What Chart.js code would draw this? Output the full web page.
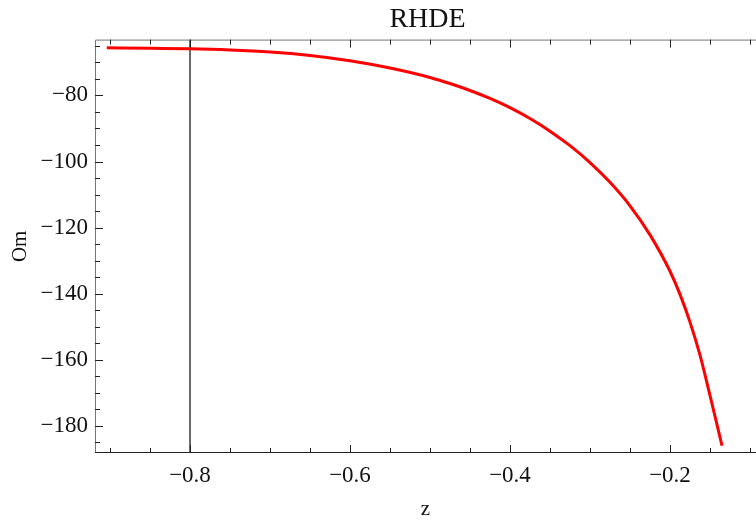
<!DOCTYPE html>
<html>
<head>
<meta charset="utf-8">
<script src="https://cdn.jsdelivr.net/npm/chart.js@4.4.1/dist/chart.umd.min.js"></script>
<style>
  html, body { margin: 0; padding: 0; background: #fff; overflow: hidden; }
  #wrap { width: 756px; height: 522px; position: relative; }
</style>
</head>
<body>
<div id="wrap"><canvas id="chart"></canvas></div>
<script>
// RHDE: Om against z
const Z_VALUES  = [-0.904, -0.85, -0.8, -0.75, -0.7, -0.65, -0.6, -0.55, -0.5, -0.475, -0.45, -0.425,
                   -0.4, -0.375, -0.35, -0.325, -0.3, -0.275, -0.25, -0.225, -0.2, -0.1875, -0.175,
                   -0.1625, -0.15, -0.135];
const OM_VALUES = [-65.6, -65.75, -65.9, -66.25, -66.85, -67.9, -69.5, -71.7, -74.55, -76.4, -78.5, -80.9,
                   -83.7, -87.0, -90.8, -95.2, -100.3, -106.3, -113.4, -122.2, -133.2, -140.2, -148.6,
                   -158.6, -170.8, -186.0];

const X_TICKS = [-0.8, -0.6, -0.4, -0.2];
const Y_TICKS = [-80, -100, -120, -140, -160, -180];
const VLINE_Z = -0.8;

const X_MIN = -0.91875, X_MAX = -0.0925;
const Y_MIN = -188.2,  Y_MAX = -63.1;

const SERIF = "'Liberation Serif', 'DejaVu Serif', serif";
const minus = s => s.replace('-', '\u2212');

// centre the title over the plot frame rather than the whole canvas
const titleOverArea = {
    id: 'titleOverArea',
    afterLayout(chart) {
        const t = chart.titleBlock;
        if (!t) return;
        t.left = chart.chartArea.left;
        t.right = chart.chartArea.right + 4;
    }
};

// Mathematica-like frame with inward ticks (major + minor)
const frameTicks = {
    id: 'frameTicks',
    afterDatasetsDraw(chart) {
        const { ctx, chartArea: a } = chart;
        const xs = chart.scales.x, ys = chart.scales.y;
        ctx.save();
        ctx.lineWidth = 1;

        // frame lines (right side falls outside the canvas)
        ctx.strokeStyle = '#777';
        ctx.beginPath();
        ctx.moveTo(a.left + 0.5, a.bottom);
        ctx.lineTo(a.left + 0.5, a.top + 0.5);
        ctx.lineTo(a.right + 2, a.top + 0.5);
        ctx.stroke();
        ctx.strokeStyle = '#222';
        ctx.beginPath();
        ctx.moveTo(a.left, a.bottom - 0.5);
        ctx.lineTo(a.right + 2, a.bottom - 0.5);
        ctx.stroke();

        ctx.strokeStyle = '#222';
        ctx.beginPath();
        for (let i = -18; i <= -1; i++) {
            const v = i * 0.05;
            const px = Math.round(xs.getPixelForValue(v)) + 0.5;
            if (px < a.left + 1 || px > a.right) continue;
            const len = (i % 4 === 0) ? 8 : 5;
            ctx.moveTo(px, a.bottom); ctx.lineTo(px, a.bottom - len);
            ctx.moveTo(px, a.top);    ctx.lineTo(px, a.top + len);
        }
        for (let v = -185; v <= -65; v += 5) {
            const py = Math.round(ys.getPixelForValue(v)) + 0.5;
            const len = (v % 20 === 0) ? 8 : 5;
            ctx.moveTo(a.left, py); ctx.lineTo(a.left + len, py);
        }
        ctx.stroke();
        ctx.restore();
    }
};

const ctx = document.getElementById('chart').getContext('2d');
new Chart(ctx, {
    type: 'line',
    data: {
        datasets: [
            {
                label: 'Om',
                data: Z_VALUES.map((z, i) => ({ x: z, y: OM_VALUES[i] })),
                borderColor: '#ff0000',
                borderWidth: 3,
                pointRadius: 0,
                cubicInterpolationMode: 'monotone',
                fill: false,
            },
            {
                label: 'z = -0.8',
                data: [{ x: VLINE_Z, y: Y_MAX }, { x: VLINE_Z, y: Y_MIN }],
                borderColor: '#555',
                borderWidth: 1,
                pointRadius: 0,
                fill: false,
            },
        ]
    },
    options: {
        responsive: true,
        maintainAspectRatio: false,
        animation: false,
        layout: { padding: { left: 0, right: 0, top: 0, bottom: 0 } },
        plugins: {
            legend: { display: false },
            tooltip: { enabled: false },
            title: {
                display: true,
                text: 'RHDE',
                color: '#111',
                font: { family: SERIF, size: 28, weight: 'normal' },
                padding: { top: 3, bottom: 3 },
            },
        },
        scales: {
            x: {
                type: 'linear',
                min: X_MIN, max: X_MAX,
                afterBuildTicks(s) { s.ticks = X_TICKS.map(v => ({ value: v })); },
                afterFit(s) { s.height = 69; },
                grid: { display: false, drawTicks: false },
                border: { display: false },
                ticks: {
                    color: '#111',
                    padding: 9,
                    maxRotation: 0,
                    autoSkip: false,
                    font: { family: SERIF, size: 23 },
                    callback: v => minus(Number(v).toFixed(1)),
                },
                title: {
                    display: true, text: 'z', color: '#111',
                    font: { family: SERIF, size: 21 },
                    padding: { top: 6, bottom: 0 },
                },
            },
            y: {
                type: 'linear',
                min: Y_MIN, max: Y_MAX,
                afterBuildTicks(s) { s.ticks = Y_TICKS.map(v => ({ value: v })); },
                afterFit(s) { s.width = 95; },
                grid: { display: false, drawTicks: false },
                border: { display: false },
                ticks: {
                    color: '#111',
                    padding: 7,
                    autoSkip: false,
                    font: { family: SERIF, size: 23 },
                    callback: v => minus(String(v)),
                },
                title: {
                    display: true, text: 'Om', color: '#111',
                    font: { family: SERIF, size: 21 },
                    padding: { top: 8, bottom: 0 },
                },
            },
        },
    },
    plugins: [titleOverArea, frameTicks],
});
</script>
</body>
</html>
